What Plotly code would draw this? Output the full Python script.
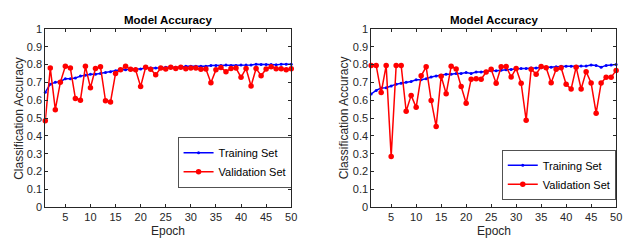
import plotly.graph_objects as go

epochs = list(range(1, 51))

train_a = [0.645, 0.69, 0.70, 0.705, 0.72, 0.72, 0.725, 0.735, 0.74, 0.745,
           0.745, 0.75, 0.755, 0.76, 0.765, 0.77, 0.77, 0.775, 0.775, 0.775,
           0.78, 0.78, 0.78, 0.78, 0.785, 0.785, 0.785, 0.785, 0.79, 0.79,
           0.79, 0.79, 0.79, 0.795, 0.795, 0.795, 0.797, 0.795, 0.795, 0.797,
           0.797, 0.797, 0.802, 0.8, 0.8, 0.8, 0.798, 0.802, 0.802, 0.802]
val_a = [0.485, 0.78, 0.547, 0.70, 0.79, 0.78, 0.61, 0.60, 0.79, 0.67,
         0.778, 0.787, 0.597, 0.59, 0.75, 0.77, 0.79, 0.773, 0.77, 0.677,
         0.785, 0.773, 0.742, 0.78, 0.775, 0.785, 0.778, 0.785, 0.776, 0.78,
         0.78, 0.773, 0.775, 0.698, 0.77, 0.783, 0.76, 0.778, 0.78, 0.728,
         0.778, 0.68, 0.778, 0.737, 0.775, 0.787, 0.776, 0.776, 0.77, 0.776]

train_b = [0.635, 0.655, 0.668, 0.67, 0.68, 0.69, 0.695, 0.70, 0.705, 0.715,
           0.715, 0.72, 0.73, 0.735, 0.74, 0.745, 0.745, 0.75, 0.75, 0.755,
           0.75, 0.758, 0.758, 0.762, 0.765, 0.765, 0.768, 0.77, 0.772, 0.775,
           0.778, 0.778, 0.78, 0.78, 0.782, 0.785, 0.785, 0.787, 0.79, 0.79,
           0.79, 0.79, 0.792, 0.792, 0.797, 0.795, 0.785, 0.795, 0.797, 0.8]
val_b = [0.794, 0.795, 0.643, 0.794, 0.284, 0.794, 0.794, 0.538, 0.627, 0.56,
         0.737, 0.787, 0.599, 0.453, 0.734, 0.636, 0.79, 0.775, 0.677, 0.583,
         0.718, 0.72, 0.718, 0.758, 0.773, 0.695, 0.787, 0.789, 0.73, 0.778,
         0.695, 0.488, 0.773, 0.746, 0.789, 0.782, 0.698, 0.773, 0.782, 0.689,
         0.663, 0.785, 0.663, 0.76, 0.696, 0.527, 0.696, 0.728, 0.728, 0.767]

y_ticks = [0, 0.1, 0.2, 0.3, 0.4, 0.5, 0.6, 0.7, 0.8, 0.9, 1]
y_ticktext = ["0", "0.1", "0.2", "0.3", "0.4", "0.5", "0.6", "0.7", "0.8", "0.9", "1"]
x_ticks = [5, 10, 15, 20, 25, 30, 35, 40, 45, 50]

title_text = "Model Accuracy"
x_title = "Epoch"
y_title = "Classification Accuracy"

FONT = "Liberation Sans, Arial, sans-serif"
TXT = "#262626"
W, H = 636, 244

fig = go.Figure()

panels = [
    (train_a, val_a, "x", "y", "legend"),
    (train_b, val_b, "x2", "y2", "legend2"),
]
for tr, va, xa, ya, lg in panels:
    fig.add_trace(go.Scatter(
        x=epochs, y=tr, mode="lines+markers", name="Training Set",
        line=dict(color="#0000ff", width=1.5),
        marker=dict(symbol="circle", size=3, color="#0000ff"),
        cliponaxis=False,
        xaxis=xa, yaxis=ya, legend=lg))
    fig.add_trace(go.Scatter(
        x=epochs, y=va, mode="lines+markers", name="Validation Set",
        line=dict(color="#ff0000", width=1.5),
        marker=dict(symbol="circle", size=5.5, color="#ff0000"),
        cliponaxis=False,
        xaxis=xa, yaxis=ya, legend=lg))

ydom = [1 - 211.7 / H, 1 - 24 / H]
xdoms = [[45.7 / W, 294 / W], [374.7 / W, 622 / W]]
ylab_x = [19 / W, 347.5 / W]

common_x = dict(range=[1, 50], tickmode="array", tickvals=x_ticks,
                ticks="inside", ticklen=3, tickwidth=0.8, tickcolor=TXT,
                showline=True, linecolor=TXT, linewidth=0.8, mirror="ticks",
                showgrid=False, zeroline=False,
                tickfont=dict(family=FONT, size=11, color=TXT))
common_y = dict(range=[0, 1], tickmode="array", tickvals=y_ticks, ticktext=y_ticktext,
                ticks="inside", ticklen=3, tickwidth=0.8, tickcolor=TXT,
                showline=True, linecolor=TXT, linewidth=0.8, mirror="ticks",
                showgrid=False, zeroline=False,
                tickfont=dict(family=FONT, size=11, color=TXT))

legend_common = dict(xanchor="center", yanchor="middle",
                     bgcolor="white", bordercolor=TXT, borderwidth=0.8,
                     font=dict(family=FONT, size=11, color="#000000"),
                     itemwidth=30, tracegroupgap=0)

fig.update_layout(
    width=W, height=H,
    margin=dict(l=0, r=0, t=0, b=0),
    paper_bgcolor="white", plot_bgcolor="white",
    font=dict(family=FONT, color=TXT),
    xaxis=dict(domain=xdoms[0], anchor="y", **common_x),
    yaxis=dict(domain=ydom, anchor="x", **common_y),
    xaxis2=dict(domain=xdoms[1], anchor="y2", **common_x),
    yaxis2=dict(domain=ydom, anchor="x2", **common_y),
    legend=dict(x=237 / W, y=1 - 164.6 / H, **legend_common),
    legend2=dict(x=564.3 / W, y=1 - 177.8 / H, **legend_common),
    showlegend=True,
    hovermode=False,
)

for i, xd in enumerate(xdoms):
    cx = (xd[0] + xd[1]) / 2
    fig.add_annotation(text="<b>" + title_text + "</b>", xref="paper", yref="paper",
                       x=cx, y=1 - 15 / H, xanchor="center", yanchor="middle",
                       showarrow=False, font=dict(family=FONT, size=11.5, color="#000000"))
    fig.add_annotation(text=x_title, xref="paper", yref="paper",
                       x=cx, y=1 - 237 / H, xanchor="center", yanchor="middle",
                       showarrow=False, font=dict(family=FONT, size=12, color=TXT))
    fig.add_annotation(text=y_title, xref="paper", yref="paper", textangle=-90,
                       x=ylab_x[i], y=(ydom[0] + ydom[1]) / 2, xanchor="center", yanchor="middle",
                       showarrow=False, font=dict(family=FONT, size=12, color=TXT))

fig.write_html("out.html", config={"displayModeBar": False},
               post_script="document.body.style.margin='0';document.body.style.overflow='hidden';")
